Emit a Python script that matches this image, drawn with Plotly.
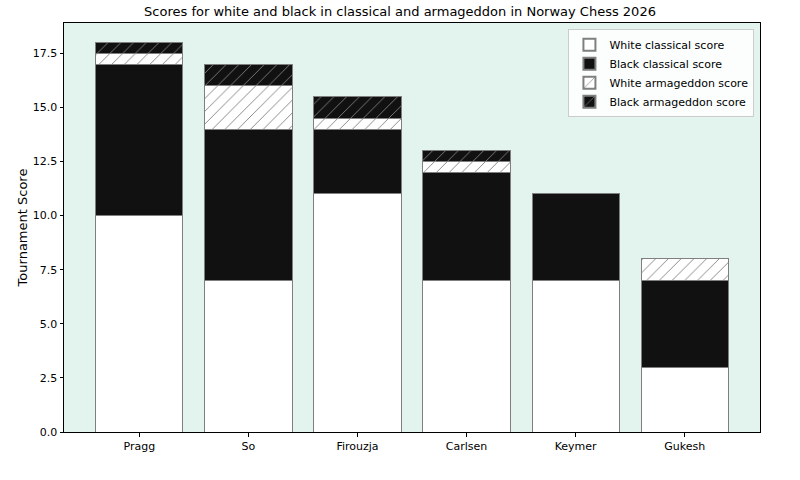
import plotly.graph_objects as go

players = ["Pragg", "So", "Firouzja", "Carlsen", "Keymer", "Gukesh"]
white_classical = [10, 7, 11, 7, 7, 3]
black_classical = [7, 7, 3, 5, 4, 4]
white_armageddon = [0.5, 2, 0.5, 0.5, 0, 1]
black_armageddon = [0.5, 1, 1, 0.5, 0, 0]
y_ticks = [0, 2.5, 5, 7.5, 10, 12.5, 15, 17.5]

edge = "#7f7f7f"
series = [
    ("White classical score", white_classical, "white", ""),
    ("Black classical score", black_classical, "#111111", ""),
    ("White armageddon score", white_armageddon, "white", "/"),
    ("Black armageddon score", black_armageddon, "#111111", "/"),
]

fig = go.Figure()
for name, vals, color, shape in series:
    marker = dict(color=color, line=dict(color=edge, width=1))
    if shape:
        marker["pattern"] = dict(shape=shape, fgcolor=edge, bgcolor=color,
                                 size=9, solidity=0.1, fillmode="replace")
    fig.add_trace(go.Bar(x=players, y=vals, name=name, marker=marker, width=0.8))

fig.update_layout(
    barmode="stack",
    width=800, height=480,
    margin=dict(l=64, r=40, t=23, b=48),
    paper_bgcolor="white",
    plot_bgcolor="#e3f4ee",
    font=dict(family="DejaVu Sans", size=11, color="black"),
    title=dict(text="Scores for white and black in classical and armageddon in Norway Chess 2026",
               x=0.5, xanchor="center", y=0.985, yanchor="top", font=dict(size=13)),
    legend=dict(x=0.992, y=0.985, xanchor="right", yanchor="top", traceorder="normal",
                bgcolor="rgba(255,255,255,0.85)", bordercolor="#cccccc", borderwidth=1,
                font=dict(size=11), tracegroupgap=0, itemsizing="constant"),
    showlegend=True,
)
fig.update_xaxes(range=[-0.69, 5.69], showline=True, linecolor="black", linewidth=1, mirror=True,
                 ticks="outside", ticklen=3.5, tickcolor="black", showgrid=False)
fig.update_yaxes(range=[0, 18.9], tickvals=y_ticks, tickformat=".1f",
                 title=dict(text="Tournament Score", standoff=2),
                 showline=True, linecolor="black", linewidth=1, mirror=True,
                 ticks="outside", ticklen=3.5, tickcolor="black", showgrid=False, zeroline=False)

fig.write_html("out.html")
